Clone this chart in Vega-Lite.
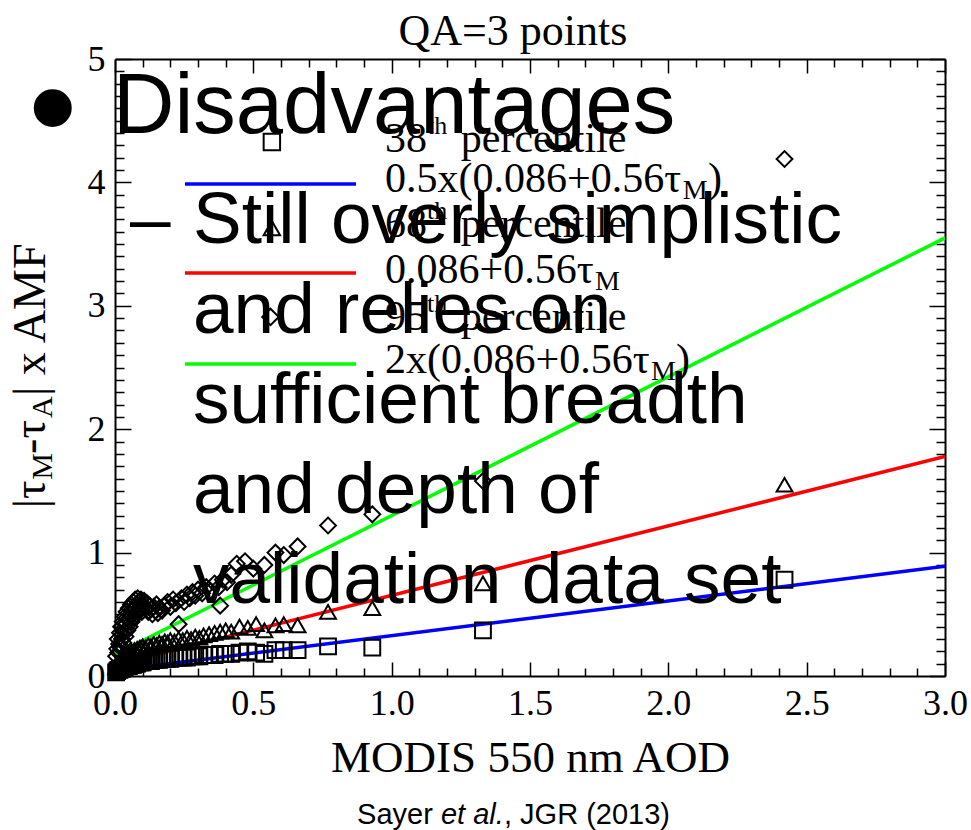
{
"$schema": "https://vega.github.io/schema/vega-lite/v6.json",
"width": 830, "height": 617,
"autosize": {"type": "none"},
"padding": {"left": 115, "top": 59, "right": 26, "bottom": 154},
"background": "white",
"config": {"view": {"stroke": null}, "axis": {"grid": false}},
"resolve": {"axis": {"x": "independent", "y": "independent"}},
"datasets": {
"fits": [
{"aod": 0, "err": 0.045, "line": "0.5x"}, {"aod": 3, "err": 0.89, "line": "0.5x"},
{"aod": 0, "err": 0.09, "line": "1x"}, {"aod": 3, "err": 1.78, "line": "1x"},
{"aod": 0, "err": 0.175, "line": "2x"}, {"aod": 3, "err": 3.55, "line": "2x"}
],
"leglines": [
{"aod": 0.253, "err": 3.987, "line": "0.5x"}, {"aod": 0.871, "err": 3.987, "line": "0.5x"},
{"aod": 0.253, "err": 3.266, "line": "1x"}, {"aod": 0.871, "err": 3.266, "line": "1x"},
{"aod": 0.253, "err": 2.528, "line": "2x"}, {"aod": 0.871, "err": 2.528, "line": "2x"}
],
"legsym": [
{"aod": 0.567, "err": 4.327, "pct": "38th"},
{"aod": 0.567, "err": 3.63, "pct": "68th"},
{"aod": 0.562, "err": 2.91, "pct": "95th"}
],
"pts": [
{"aod":0.004,"err":0.03,"pct":"38th"},{"aod":0.008,"err":0.04,"pct":"38th"},{"aod":0.012,"err":0.05,"pct":"38th"},{"aod":0.016,"err":0.05,"pct":"38th"},{"aod":0.02,"err":0.06,"pct":"38th"},{"aod":0.025,"err":0.06,"pct":"38th"},{"aod":0.03,"err":0.07,"pct":"38th"},{"aod":0.035,"err":0.07,"pct":"38th"},{"aod":0.04,"err":0.08,"pct":"38th"},{"aod":0.045,"err":0.08,"pct":"38th"},{"aod":0.05,"err":0.08,"pct":"38th"},{"aod":0.055,"err":0.09,"pct":"38th"},{"aod":0.06,"err":0.09,"pct":"38th"},{"aod":0.065,"err":0.09,"pct":"38th"},{"aod":0.07,"err":0.1,"pct":"38th"},{"aod":0.075,"err":0.1,"pct":"38th"},{"aod":0.08,"err":0.1,"pct":"38th"},{"aod":0.085,"err":0.11,"pct":"38th"},{"aod":0.09,"err":0.11,"pct":"38th"},{"aod":0.095,"err":0.11,"pct":"38th"},{"aod":0.1,"err":0.11,"pct":"38th"},{"aod":0.11,"err":0.12,"pct":"38th"},{"aod":0.12,"err":0.12,"pct":"38th"},{"aod":0.13,"err":0.12,"pct":"38th"},{"aod":0.14,"err":0.13,"pct":"38th"},{"aod":0.15,"err":0.13,"pct":"38th"},{"aod":0.16,"err":0.13,"pct":"38th"},{"aod":0.17,"err":0.14,"pct":"38th"},{"aod":0.18,"err":0.14,"pct":"38th"},{"aod":0.19,"err":0.14,"pct":"38th"},{"aod":0.2,"err":0.14,"pct":"38th"},{"aod":0.215,"err":0.15,"pct":"38th"},{"aod":0.23,"err":0.15,"pct":"38th"},{"aod":0.245,"err":0.15,"pct":"38th"},{"aod":0.26,"err":0.15,"pct":"38th"},{"aod":0.275,"err":0.16,"pct":"38th"},{"aod":0.29,"err":0.16,"pct":"38th"},{"aod":0.305,"err":0.16,"pct":"38th"},{"aod":0.32,"err":0.17,"pct":"38th"},{"aod":0.34,"err":0.17,"pct":"38th"},{"aod":0.36,"err":0.17,"pct":"38th"},{"aod":0.38,"err":0.18,"pct":"38th"},{"aod":0.4,"err":0.18,"pct":"38th"},{"aod":0.42,"err":0.18,"pct":"38th"},{"aod":0.45,"err":0.19,"pct":"38th"},{"aod":0.48,"err":0.2,"pct":"38th"},{"aod":0.51,"err":0.19,"pct":"38th"},{"aod":0.54,"err":0.18,"pct":"38th"},{"aod":0.58,"err":0.21,"pct":"38th"},{"aod":0.61,"err":0.21,"pct":"38th"},{"aod":0.66,"err":0.21,"pct":"38th"},{"aod":0.77,"err":0.24,"pct":"38th"},{"aod":0.93,"err":0.23,"pct":"38th"},{"aod":1.33,"err":0.37,"pct":"38th"},{"aod":2.42,"err":0.78,"pct":"38th"},
{"aod":0.004,"err":0.07,"pct":"68th"},{"aod":0.008,"err":0.09,"pct":"68th"},{"aod":0.012,"err":0.11,"pct":"68th"},{"aod":0.016,"err":0.1,"pct":"68th"},{"aod":0.02,"err":0.13,"pct":"68th"},{"aod":0.025,"err":0.12,"pct":"68th"},{"aod":0.03,"err":0.15,"pct":"68th"},{"aod":0.035,"err":0.14,"pct":"68th"},{"aod":0.04,"err":0.17,"pct":"68th"},{"aod":0.045,"err":0.16,"pct":"68th"},{"aod":0.05,"err":0.18,"pct":"68th"},{"aod":0.055,"err":0.17,"pct":"68th"},{"aod":0.06,"err":0.2,"pct":"68th"},{"aod":0.065,"err":0.19,"pct":"68th"},{"aod":0.07,"err":0.21,"pct":"68th"},{"aod":0.075,"err":0.2,"pct":"68th"},{"aod":0.08,"err":0.22,"pct":"68th"},{"aod":0.085,"err":0.21,"pct":"68th"},{"aod":0.09,"err":0.23,"pct":"68th"},{"aod":0.095,"err":0.22,"pct":"68th"},{"aod":0.1,"err":0.24,"pct":"68th"},{"aod":0.11,"err":0.23,"pct":"68th"},{"aod":0.12,"err":0.25,"pct":"68th"},{"aod":0.13,"err":0.24,"pct":"68th"},{"aod":0.14,"err":0.26,"pct":"68th"},{"aod":0.15,"err":0.25,"pct":"68th"},{"aod":0.16,"err":0.27,"pct":"68th"},{"aod":0.17,"err":0.26,"pct":"68th"},{"aod":0.18,"err":0.28,"pct":"68th"},{"aod":0.19,"err":0.27,"pct":"68th"},{"aod":0.2,"err":0.29,"pct":"68th"},{"aod":0.215,"err":0.28,"pct":"68th"},{"aod":0.23,"err":0.3,"pct":"68th"},{"aod":0.245,"err":0.29,"pct":"68th"},{"aod":0.26,"err":0.31,"pct":"68th"},{"aod":0.275,"err":0.3,"pct":"68th"},{"aod":0.29,"err":0.32,"pct":"68th"},{"aod":0.305,"err":0.31,"pct":"68th"},{"aod":0.32,"err":0.33,"pct":"68th"},{"aod":0.34,"err":0.34,"pct":"68th"},{"aod":0.36,"err":0.35,"pct":"68th"},{"aod":0.38,"err":0.36,"pct":"68th"},{"aod":0.4,"err":0.37,"pct":"68th"},{"aod":0.42,"err":0.36,"pct":"68th"},{"aod":0.45,"err":0.4,"pct":"68th"},{"aod":0.48,"err":0.39,"pct":"68th"},{"aod":0.51,"err":0.42,"pct":"68th"},{"aod":0.54,"err":0.37,"pct":"68th"},{"aod":0.58,"err":0.41,"pct":"68th"},{"aod":0.61,"err":0.42,"pct":"68th"},{"aod":0.66,"err":0.41,"pct":"68th"},{"aod":0.77,"err":0.52,"pct":"68th"},{"aod":0.93,"err":0.55,"pct":"68th"},{"aod":1.33,"err":0.75,"pct":"68th"},{"aod":2.42,"err":1.55,"pct":"68th"},
{"aod":0.004,"err":0.16,"pct":"95th"},{"aod":0.008,"err":0.22,"pct":"95th"},{"aod":0.01,"err":0.3,"pct":"95th"},{"aod":0.012,"err":0.19,"pct":"95th"},{"aod":0.015,"err":0.26,"pct":"95th"},{"aod":0.018,"err":0.35,"pct":"95th"},{"aod":0.02,"err":0.23,"pct":"95th"},{"aod":0.022,"err":0.4,"pct":"95th"},{"aod":0.025,"err":0.3,"pct":"95th"},{"aod":0.028,"err":0.44,"pct":"95th"},{"aod":0.03,"err":0.27,"pct":"95th"},{"aod":0.032,"err":0.36,"pct":"95th"},{"aod":0.035,"err":0.48,"pct":"95th"},{"aod":0.038,"err":0.32,"pct":"95th"},{"aod":0.04,"err":0.42,"pct":"95th"},{"aod":0.042,"err":0.52,"pct":"95th"},{"aod":0.045,"err":0.37,"pct":"95th"},{"aod":0.048,"err":0.46,"pct":"95th"},{"aod":0.05,"err":0.55,"pct":"95th"},{"aod":0.053,"err":0.4,"pct":"95th"},{"aod":0.056,"err":0.5,"pct":"95th"},{"aod":0.058,"err":0.58,"pct":"95th"},{"aod":0.06,"err":0.44,"pct":"95th"},{"aod":0.063,"err":0.53,"pct":"95th"},{"aod":0.066,"err":0.6,"pct":"95th"},{"aod":0.068,"err":0.47,"pct":"95th"},{"aod":0.07,"err":0.56,"pct":"95th"},{"aod":0.073,"err":0.62,"pct":"95th"},{"aod":0.076,"err":0.5,"pct":"95th"},{"aod":0.079,"err":0.58,"pct":"95th"},{"aod":0.082,"err":0.63,"pct":"95th"},{"aod":0.085,"err":0.53,"pct":"95th"},{"aod":0.088,"err":0.6,"pct":"95th"},{"aod":0.091,"err":0.56,"pct":"95th"},{"aod":0.094,"err":0.62,"pct":"95th"},{"aod":0.097,"err":0.52,"pct":"95th"},{"aod":0.1,"err":0.58,"pct":"95th"},{"aod":0.105,"err":0.61,"pct":"95th"},{"aod":0.11,"err":0.55,"pct":"95th"},{"aod":0.115,"err":0.59,"pct":"95th"},{"aod":0.12,"err":0.52,"pct":"95th"},{"aod":0.125,"err":0.57,"pct":"95th"},{"aod":0.13,"err":0.54,"pct":"95th"},{"aod":0.135,"err":0.5,"pct":"95th"},{"aod":0.14,"err":0.56,"pct":"95th"},{"aod":0.145,"err":0.53,"pct":"95th"},{"aod":0.15,"err":0.58,"pct":"95th"},{"aod":0.155,"err":0.51,"pct":"95th"},{"aod":0.16,"err":0.55,"pct":"95th"},{"aod":0.17,"err":0.53,"pct":"95th"},{"aod":0.18,"err":0.57,"pct":"95th"},{"aod":0.19,"err":0.6,"pct":"95th"},{"aod":0.2,"err":0.56,"pct":"95th"},{"aod":0.21,"err":0.62,"pct":"95th"},{"aod":0.22,"err":0.59,"pct":"95th"},{"aod":0.23,"err":0.42,"pct":"95th"},{"aod":0.24,"err":0.63,"pct":"95th"},{"aod":0.25,"err":0.6,"pct":"95th"},{"aod":0.26,"err":0.66,"pct":"95th"},{"aod":0.27,"err":0.63,"pct":"95th"},{"aod":0.28,"err":0.68,"pct":"95th"},{"aod":0.29,"err":0.65,"pct":"95th"},{"aod":0.3,"err":0.7,"pct":"95th"},{"aod":0.315,"err":0.67,"pct":"95th"},{"aod":0.33,"err":0.72,"pct":"95th"},{"aod":0.345,"err":0.69,"pct":"95th"},{"aod":0.36,"err":0.75,"pct":"95th"},{"aod":0.375,"err":0.72,"pct":"95th"},{"aod":0.38,"err":0.57,"pct":"95th"},{"aod":0.39,"err":0.78,"pct":"95th"},{"aod":0.405,"err":0.76,"pct":"95th"},{"aod":0.42,"err":0.82,"pct":"95th"},{"aod":0.44,"err":0.91,"pct":"95th"},{"aod":0.47,"err":0.93,"pct":"95th"},{"aod":0.5,"err":0.87,"pct":"95th"},{"aod":0.54,"err":0.9,"pct":"95th"},{"aod":0.58,"err":1.0,"pct":"95th"},{"aod":0.61,"err":0.98,"pct":"95th"},{"aod":0.66,"err":1.05,"pct":"95th"},{"aod":0.77,"err":1.22,"pct":"95th"},{"aod":0.93,"err":1.31,"pct":"95th"},{"aod":1.33,"err":1.58,"pct":"95th"},{"aod":2.42,"err":4.19,"pct":"95th"}
],
"legtext": [
{"t": "38", "aod": 0.976, "err": 4.246}, {"t": "percentile", "aod": 1.25, "err": 4.246},
{"t": "0.5x(0.086+0.56τ", "aod": 0.976, "err": 3.922}, {"t": ")", "aod": 2.143, "err": 3.922},
{"t": "68", "aod": 0.976, "err": 3.558}, {"t": "percentile", "aod": 1.25, "err": 3.558},
{"t": "0.086+0.56τ", "aod": 0.976, "err": 3.185},
{"t": "95", "aod": 0.976, "err": 2.804}, {"t": "percentile", "aod": 1.25, "err": 2.804},
{"t": "2x(0.086+0.56τ", "aod": 0.976, "err": 2.455}, {"t": ")", "aod": 2.028, "err": 2.455}
],
"legsup": [
{"t": "th", "aod": 1.128, "err": 4.39}, {"t": "th", "aod": 1.128, "err": 3.70}, {"t": "th", "aod": 1.128, "err": 2.95}
],
"legsub": [
{"t": "M", "aod": 2.052, "err": 3.865}, {"t": "M", "aod": 1.735, "err": 3.128}, {"t": "M", "aod": 1.937, "err": 2.398}
],
"ytmain": [
{"t": "|τ", "aod": -0.253, "err": 1.36}, {"t": "-τ", "aod": -0.253, "err": 1.80}, {"t": "| x AMF", "aod": -0.253, "err": 2.27}
],
"ytsub": [
{"t": "M", "aod": -0.228, "err": 1.59}, {"t": "A", "aod": -0.228, "err": 2.09}
],
"title": [{"t": "QA=3 points", "aod": 1.438, "err": 5.11}],
"head": [{"t": "Disadvantages", "aod": -0.007, "err": 4.40}],
"bullet": [{"t": "•", "aod": -0.225, "err": 4.23}],
"body": [
{"t": "–", "aod": 0.054, "err": 3.509},
{"t": "Still overly simplistic", "aod": 0.282, "err": 3.509},
{"t": "and relies on", "aod": 0.282, "err": 2.78},
{"t": "sufficient breadth", "aod": 0.282, "err": 2.05},
{"t": "and depth of", "aod": 0.282, "err": 1.321},
{"t": "validation data set", "aod": 0.282, "err": 0.592}
],
"cite": [{"t": "Sayer", "aod": 0.875, "err": -1.199}, {"t": ", JGR (2013)", "aod": 1.406, "err": -1.199}],
"citeit": [{"t": "et al.", "aod": 1.178, "err": -1.199}]
},
"layer": [
{
"data": {"name": "fits"},
"mark": {"type": "line", "strokeWidth": 3.5, "clip": true},
"encoding": {
"x": {"field": "aod", "type": "quantitative", "scale": {"domain": [0, 3], "nice": false, "zero": false},
"axis": {"orient": "top", "values": [0,0.5,1,1.5,2,2.5,3], "labels": false, "title": null, "tickSize": -14,
"tickColor": "black", "tickWidth": 1.5, "domainColor": "black", "domainWidth": 2, "grid": false}},
"y": {"field": "err", "type": "quantitative", "scale": {"domain": [0, 5], "nice": false, "zero": false},
"axis": {"orient": "right", "values": [0,1,2,3,4,5], "labels": false, "title": null, "tickSize": -16,
"tickColor": "black", "tickWidth": 1.5, "domainColor": "black", "domainWidth": 2, "grid": false}},
"color": {"field": "line", "type": "nominal", "scale": {"domain": ["0.5x", "1x", "2x"], "range": ["#0000ff", "#ff0000", "#00ff00"]}, "legend": null}
}
},
{
"data": {"name": "pts"},
"mark": {"type": "point", "filled": false, "color": "black", "strokeWidth": 2, "size": 250, "opacity": 1},
"encoding": {
"x": {"field": "aod", "type": "quantitative", "scale": {"domain": [0, 3], "nice": false, "zero": false},
"axis": {"orient": "bottom", "values": [0,0.5,1,1.5,2,2.5,3], "format": ".1f", "tickSize": -14,
"tickColor": "black", "tickWidth": 1.5, "domainColor": "black", "domainWidth": 2, "grid": false,
"labelFont": "Liberation Serif", "labelFontSize": 36, "labelColor": "black", "labelPadding": 24, "labelOverlap": false, "labelFlush": false,
"title": "MODIS 550 nm AOD", "titleFont": "Liberation Serif", "titleFontSize": 45, "titleFontWeight": "normal", "titleColor": "black", "titlePadding": 14}},
"y": {"field": "err", "type": "quantitative", "scale": {"domain": [0, 5], "nice": false, "zero": false},
"axis": {"orient": "left", "values": [0,1,2,3,4,5], "format": "d", "tickSize": -16,
"tickColor": "black", "tickWidth": 1.5, "domainColor": "black", "domainWidth": 2, "grid": false,
"labelFont": "Liberation Serif", "labelFontSize": 36, "labelColor": "black", "labelPadding": 26, "labelOverlap": false, "labelFlush": false, "title": null}},
"shape": {"field": "pct", "type": "nominal", "scale": {"domain": ["38th", "68th", "95th"], "range": ["square", "triangle-up", "diamond"]}, "legend": null}
}
},
{
"data": {"name": "leglines"},
"mark": {"type": "line", "strokeWidth": 3.5},
"encoding": {
"x": {"field": "aod", "type": "quantitative", "scale": {"domain": [0, 3], "nice": false, "zero": false},
"axis": {"orient": "bottom", "values": [0.1,0.2,0.3,0.4,0.6,0.7,0.8,0.9,1.1,1.2,1.3,1.4,1.6,1.7,1.8,1.9,2.1,2.2,2.3,2.4,2.6,2.7,2.8,2.9], "labels": false, "title": null, "domain": false, "tickSize": -8, "tickColor": "black", "tickWidth": 1.5, "grid": false}},
"y": {"field": "err", "type": "quantitative", "scale": {"domain": [0, 5], "nice": false, "zero": false},
"axis": {"orient": "left", "values": [0.1,0.2,0.3,0.4,0.5,0.6,0.7,0.8,0.9,1.1,1.2,1.3,1.4,1.5,1.6,1.7,1.8,1.9,2.1,2.2,2.3,2.4,2.5,2.6,2.7,2.8,2.9,3.1,3.2,3.3,3.4,3.5,3.6,3.7,3.8,3.9,4.1,4.2,4.3,4.4,4.5,4.6,4.7,4.8,4.9], "labels": false, "title": null, "domain": false, "tickSize": -9, "tickColor": "black", "tickWidth": 1.5, "grid": false}},
"color": {"field": "line", "type": "nominal", "legend": null}
}
},
{
"data": {"name": "legsym"},
"mark": {"type": "point", "filled": false, "color": "black", "strokeWidth": 2, "size": 270, "opacity": 1},
"encoding": {
"x": {"field": "aod", "type": "quantitative", "scale": {"domain": [0, 3], "nice": false, "zero": false},
"axis": {"orient": "top", "values": [0.1,0.2,0.3,0.4,0.6,0.7,0.8,0.9,1.1,1.2,1.3,1.4,1.6,1.7,1.8,1.9,2.1,2.2,2.3,2.4,2.6,2.7,2.8,2.9], "labels": false, "title": null, "domain": false, "tickSize": -8, "tickColor": "black", "tickWidth": 1.5, "grid": false}},
"y": {"field": "err", "type": "quantitative", "scale": {"domain": [0, 5], "nice": false, "zero": false},
"axis": {"orient": "right", "values": [0.1,0.2,0.3,0.4,0.5,0.6,0.7,0.8,0.9,1.1,1.2,1.3,1.4,1.5,1.6,1.7,1.8,1.9,2.1,2.2,2.3,2.4,2.5,2.6,2.7,2.8,2.9,3.1,3.2,3.3,3.4,3.5,3.6,3.7,3.8,3.9,4.1,4.2,4.3,4.4,4.5,4.6,4.7,4.8,4.9], "labels": false, "title": null, "domain": false, "tickSize": -9, "tickColor": "black", "tickWidth": 1.5, "grid": false}},
"shape": {"field": "pct", "type": "nominal", "legend": null}
}
},
{
"data": {"name": "legtext"},
"mark": {"type": "text", "font": "Liberation Serif", "fontSize": 42, "align": "left", "baseline": "alphabetic", "color": "black"},
"encoding": {
"x": {"field": "aod", "type": "quantitative", "scale": {"domain": [0, 3], "nice": false, "zero": false}, "axis": null},
"y": {"field": "err", "type": "quantitative", "scale": {"domain": [0, 5], "nice": false, "zero": false}, "axis": null},
"text": {"field": "t"}
}
},
{
"data": {"name": "legsup"},
"mark": {"type": "text", "font": "Liberation Serif", "fontSize": 26, "align": "left", "baseline": "alphabetic", "color": "black"},
"encoding": {
"x": {"field": "aod", "type": "quantitative", "scale": {"domain": [0, 3], "nice": false, "zero": false}, "axis": null},
"y": {"field": "err", "type": "quantitative", "scale": {"domain": [0, 5], "nice": false, "zero": false}, "axis": null},
"text": {"field": "t"}
}
},
{
"data": {"name": "legsub"},
"mark": {"type": "text", "font": "Liberation Serif", "fontSize": 28, "align": "left", "baseline": "alphabetic", "color": "black"},
"encoding": {
"x": {"field": "aod", "type": "quantitative", "scale": {"domain": [0, 3], "nice": false, "zero": false}, "axis": null},
"y": {"field": "err", "type": "quantitative", "scale": {"domain": [0, 5], "nice": false, "zero": false}, "axis": null},
"text": {"field": "t"}
}
},
{
"data": {"name": "ytmain"},
"mark": {"type": "text", "font": "Liberation Serif", "fontSize": 46, "align": "left", "baseline": "alphabetic", "angle": 270, "color": "black"},
"encoding": {
"x": {"field": "aod", "type": "quantitative", "scale": {"domain": [0, 3], "nice": false, "zero": false}, "axis": null},
"y": {"field": "err", "type": "quantitative", "scale": {"domain": [0, 5], "nice": false, "zero": false}, "axis": null},
"text": {"field": "t"}
}
},
{
"data": {"name": "ytsub"},
"mark": {"type": "text", "font": "Liberation Serif", "fontSize": 30, "align": "left", "baseline": "alphabetic", "angle": 270, "color": "black"},
"encoding": {
"x": {"field": "aod", "type": "quantitative", "scale": {"domain": [0, 3], "nice": false, "zero": false}, "axis": null},
"y": {"field": "err", "type": "quantitative", "scale": {"domain": [0, 5], "nice": false, "zero": false}, "axis": null},
"text": {"field": "t"}
}
},
{
"data": {"name": "title"},
"mark": {"type": "text", "font": "Liberation Serif", "fontSize": 44, "align": "center", "baseline": "alphabetic", "color": "black"},
"encoding": {
"x": {"field": "aod", "type": "quantitative", "scale": {"domain": [0, 3], "nice": false, "zero": false}, "axis": null},
"y": {"field": "err", "type": "quantitative", "scale": {"domain": [0, 5], "nice": false, "zero": false}, "axis": null},
"text": {"field": "t"}
}
},
{
"data": {"name": "head"},
"mark": {"type": "text", "font": "Liberation Sans", "fontSize": 85, "align": "left", "baseline": "alphabetic", "color": "black"},
"encoding": {
"x": {"field": "aod", "type": "quantitative", "scale": {"domain": [0, 3], "nice": false, "zero": false}, "axis": null},
"y": {"field": "err", "type": "quantitative", "scale": {"domain": [0, 5], "nice": false, "zero": false}, "axis": null},
"text": {"field": "t"}
}
},
{
"data": {"name": "bullet"},
"mark": {"type": "text", "font": "Liberation Sans", "fontSize": 140, "align": "center", "baseline": "alphabetic", "color": "black"},
"encoding": {
"x": {"field": "aod", "type": "quantitative", "scale": {"domain": [0, 3], "nice": false, "zero": false}, "axis": null},
"y": {"field": "err", "type": "quantitative", "scale": {"domain": [0, 5], "nice": false, "zero": false}, "axis": null},
"text": {"field": "t"}
}
},
{
"data": {"name": "body"},
"mark": {"type": "text", "font": "Liberation Sans", "fontSize": 73, "align": "left", "baseline": "alphabetic", "color": "black"},
"encoding": {
"x": {"field": "aod", "type": "quantitative", "scale": {"domain": [0, 3], "nice": false, "zero": false}, "axis": null},
"y": {"field": "err", "type": "quantitative", "scale": {"domain": [0, 5], "nice": false, "zero": false}, "axis": null},
"text": {"field": "t"}
}
},
{
"data": {"name": "cite"},
"mark": {"type": "text", "font": "Liberation Sans", "fontSize": 29, "align": "left", "baseline": "alphabetic", "color": "black"},
"encoding": {
"x": {"field": "aod", "type": "quantitative", "scale": {"domain": [0, 3], "nice": false, "zero": false}, "axis": null},
"y": {"field": "err", "type": "quantitative", "scale": {"domain": [0, 5], "nice": false, "zero": false}, "axis": null},
"text": {"field": "t"}
}
},
{
"data": {"name": "citeit"},
"mark": {"type": "text", "font": "Liberation Sans", "fontSize": 29, "fontStyle": "italic", "align": "left", "baseline": "alphabetic", "color": "black"},
"encoding": {
"x": {"field": "aod", "type": "quantitative", "scale": {"domain": [0, 3], "nice": false, "zero": false}, "axis": null},
"y": {"field": "err", "type": "quantitative", "scale": {"domain": [0, 5], "nice": false, "zero": false}, "axis": null},
"text": {"field": "t"}
}
}
]
}
